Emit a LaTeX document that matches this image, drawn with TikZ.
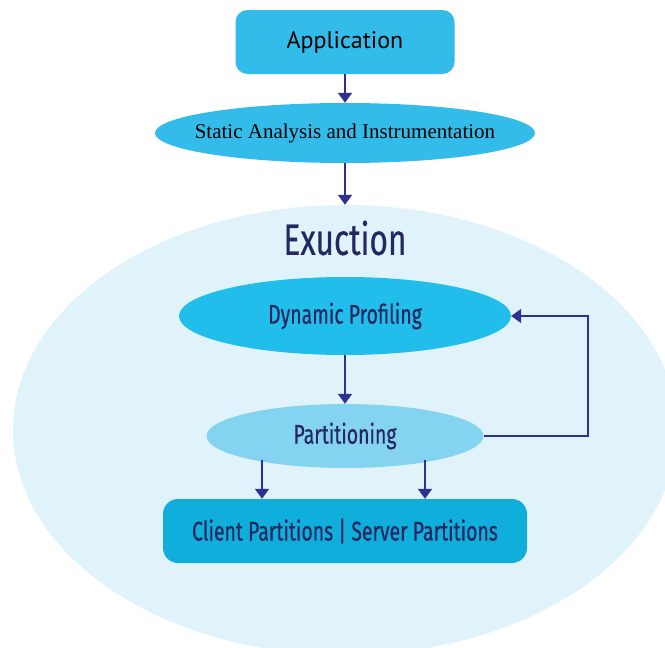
\documentclass[tikz,border=0pt]{standalone}
\usepackage{fontspec}
\setmainfont{Liberation Serif}
\newfontfamily\condfont[FakeStretch=0.72,FakeBold=0.4]{Fira Sans}
\newfontfamily\plainfont{PT Sans}
\usepackage{tikz}
\usetikzlibrary{shapes.geometric,arrows.meta}
\definecolor{shell}{HTML}{E0F3FB}
\definecolor{boxblue}{HTML}{33BBEA}
\definecolor{dpblue}{HTML}{22BEEB}
\definecolor{partblue}{HTML}{84D4F1}
\definecolor{csblue}{HTML}{10AEDB}
\definecolor{navy}{HTML}{2E3192}
\definecolor{ink}{HTML}{262661}
\tikzset{
  block/.style={rectangle, rounded corners=12pt, inner sep=0pt},
  oval/.style={ellipse, inner sep=0pt},
  cond/.style={text=ink, font=\condfont\fontsize{27}{30}\selectfont},
  arr/.style={draw=navy, line width=1.8pt, -{Triangle[width=14pt,length=10pt]}}
}

\begin{document}
\begin{tikzpicture}[x=1pt,y=-1pt]
\clip (0,0) rectangle (665,648);
\fill[white] (0,0) rectangle (665,648);

\node[oval, fill=shell, minimum width=664pt, minimum height=450pt] (exec) at (345,430) {};
\node[cond, font=\condfont\fontsize{44}{48}\selectfont] (title) at (345,238) {Exuction};

\node[block, fill=boxblue, minimum width=219pt, minimum height=64pt] (app) at (345,42)
  {\plainfont\fontsize{24}{27}\selectfont Application};
\node[oval, fill=boxblue, inner xsep=-20pt, minimum width=380pt, minimum height=60pt] (sa) at (345,133)
  {\fontsize{21}{24}\selectfont Static Analysis and Instrumentation};
\node[oval, fill=dpblue, cond, minimum width=332pt, minimum height=78pt] (dp) at (345,316)
  {Dynamic Profiling};
\node[oval, fill=partblue, cond, minimum width=277pt, minimum height=64pt] (part) at (345,436)
  {Partitioning};
\node[block, fill=csblue, cond, rounded corners=15pt, minimum width=364pt, minimum height=64pt] (cs) at (345,531)
  {Client Partitions | Server Partitions};

\draw[arr] (app.south) -- (sa.north);
\draw[arr] (sa.south) -- (exec.north);
\draw[arr] (dp.south) -- (part.north);
\draw[arr] (part.east) -- ++(104,0) |- (dp.east);
\draw[arr] ([xshift=-83pt,yshift=8pt]part.south) -- ([xshift=-83pt]cs.north);
\draw[arr] ([xshift=80pt,yshift=8pt]part.south) -- ([xshift=80pt]cs.north);
\end{tikzpicture}
\end{document}
